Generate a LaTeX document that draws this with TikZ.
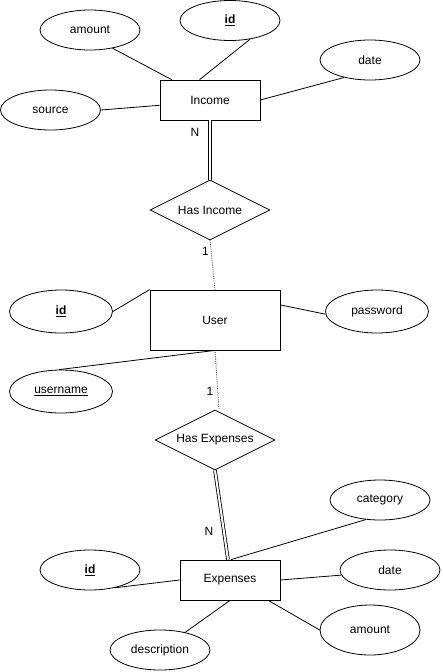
\documentclass[tikz,border=0pt]{standalone}
\usepackage{fontspec}
\setmainfont{Liberation Sans}
\usetikzlibrary{shapes.geometric}

\begin{document}
\begin{tikzpicture}[x=1pt, y=-1pt,
    entity/.style={draw, line width=0.8pt, minimum width=100pt, minimum height=40pt, inner sep=0pt},
    attr/.style={draw, ellipse, line width=0.8pt, minimum width=100pt, minimum height=40pt, inner sep=0pt},
    relation/.style={draw, diamond, aspect=2, line width=0.8pt, minimum width=120pt, minimum height=60pt, inner sep=0pt},
    link/.style={line width=0.8pt},
    total/.style={double, double distance=2pt, line width=0.8pt},
    partial/.style={densely dotted, line width=0.8pt, black!75},
    font=\fontsize{12}{14}\selectfont]
    \useasboundingbox (0, 0) rectangle (442, 672);

    \node[entity] (income) at (210, 100) {Income};
    \node[attr] (incamount) at (90, 30) {amount};
    \node[attr] (incid) at (230, 20.5) {\textbf{\underline{id}}};
    \node[attr] (incdate) at (370, 60) {date};
    \node[attr] (incsource) at (50.5, 110) {source};

    \node[relation] (hasincome) at (210, 210) {Has Income};

    \node[entity, minimum width=130pt, minimum height=60pt] (user) at (215, 320) {User};
    \node[attr, minimum width=103pt, minimum height=43pt] (userid) at (61, 311.5) {\textbf{\underline{id}}};
    \node[attr, minimum width=103pt, minimum height=43pt] (password) at (377, 311.5) {password};
    \node[attr, minimum width=103pt, minimum height=43pt] (username) at (61, 391.5) {\underline{username}};

    \node[relation] (hasexpenses) at (215, 440) {Has Expenses};

    \node[entity] (expenses) at (230, 580) {Expenses};
    \node[attr] (expid) at (90, 570) {\textbf{\underline{id}}};
    \node[attr] (category) at (380, 500) {category};
    \node[attr] (expdate) at (390, 570) {date};
    \node[attr, minimum height=50pt] (expamount) at (370, 630) {amount};
    \node[attr] (description) at (160, 650) {description};

    \draw[link] (incamount.-39) -- (income.152);
    \draw[link] (incid.-43) -- (income.117);
    \draw[link] (incdate.-146) -- (income.east);
    \draw[link] (incsource.east) -- (income.186);

    \draw[total] (income.south) -- (hasincome.north);
    \node (nincome) at (195, 132) {N};
    \draw[partial] (hasincome.south) -- (user.north);
    \node (oneincome) at (205.5, 251) {1};

    \draw[link] (userid.east) -- (user.north west);
    \draw[link] (password.183) -- (user.13);
    \draw[link] (username.95) -- (user.south);

    \draw[partial] (user.south) -- ([xshift=4pt]hasexpenses.north);
    \node (oneexpenses) at (210, 391) {1};
    \draw[total] (hasexpenses.south) -- ([xshift=-2pt]expenses.north);
    \node (nexpenses) at (209, 531) {N};

    \draw[link] (expid.-36) -- (expenses.west);
    \draw[link] (category.-126) -- ([xshift=1pt]expenses.north);
    \draw[link] (expdate.-174) -- (expenses.east);
    \draw[link] (expamount.west) -- (expenses.-28);
    \draw[link] (description.35) -- (expenses.south);
\end{tikzpicture}
\end{document}
